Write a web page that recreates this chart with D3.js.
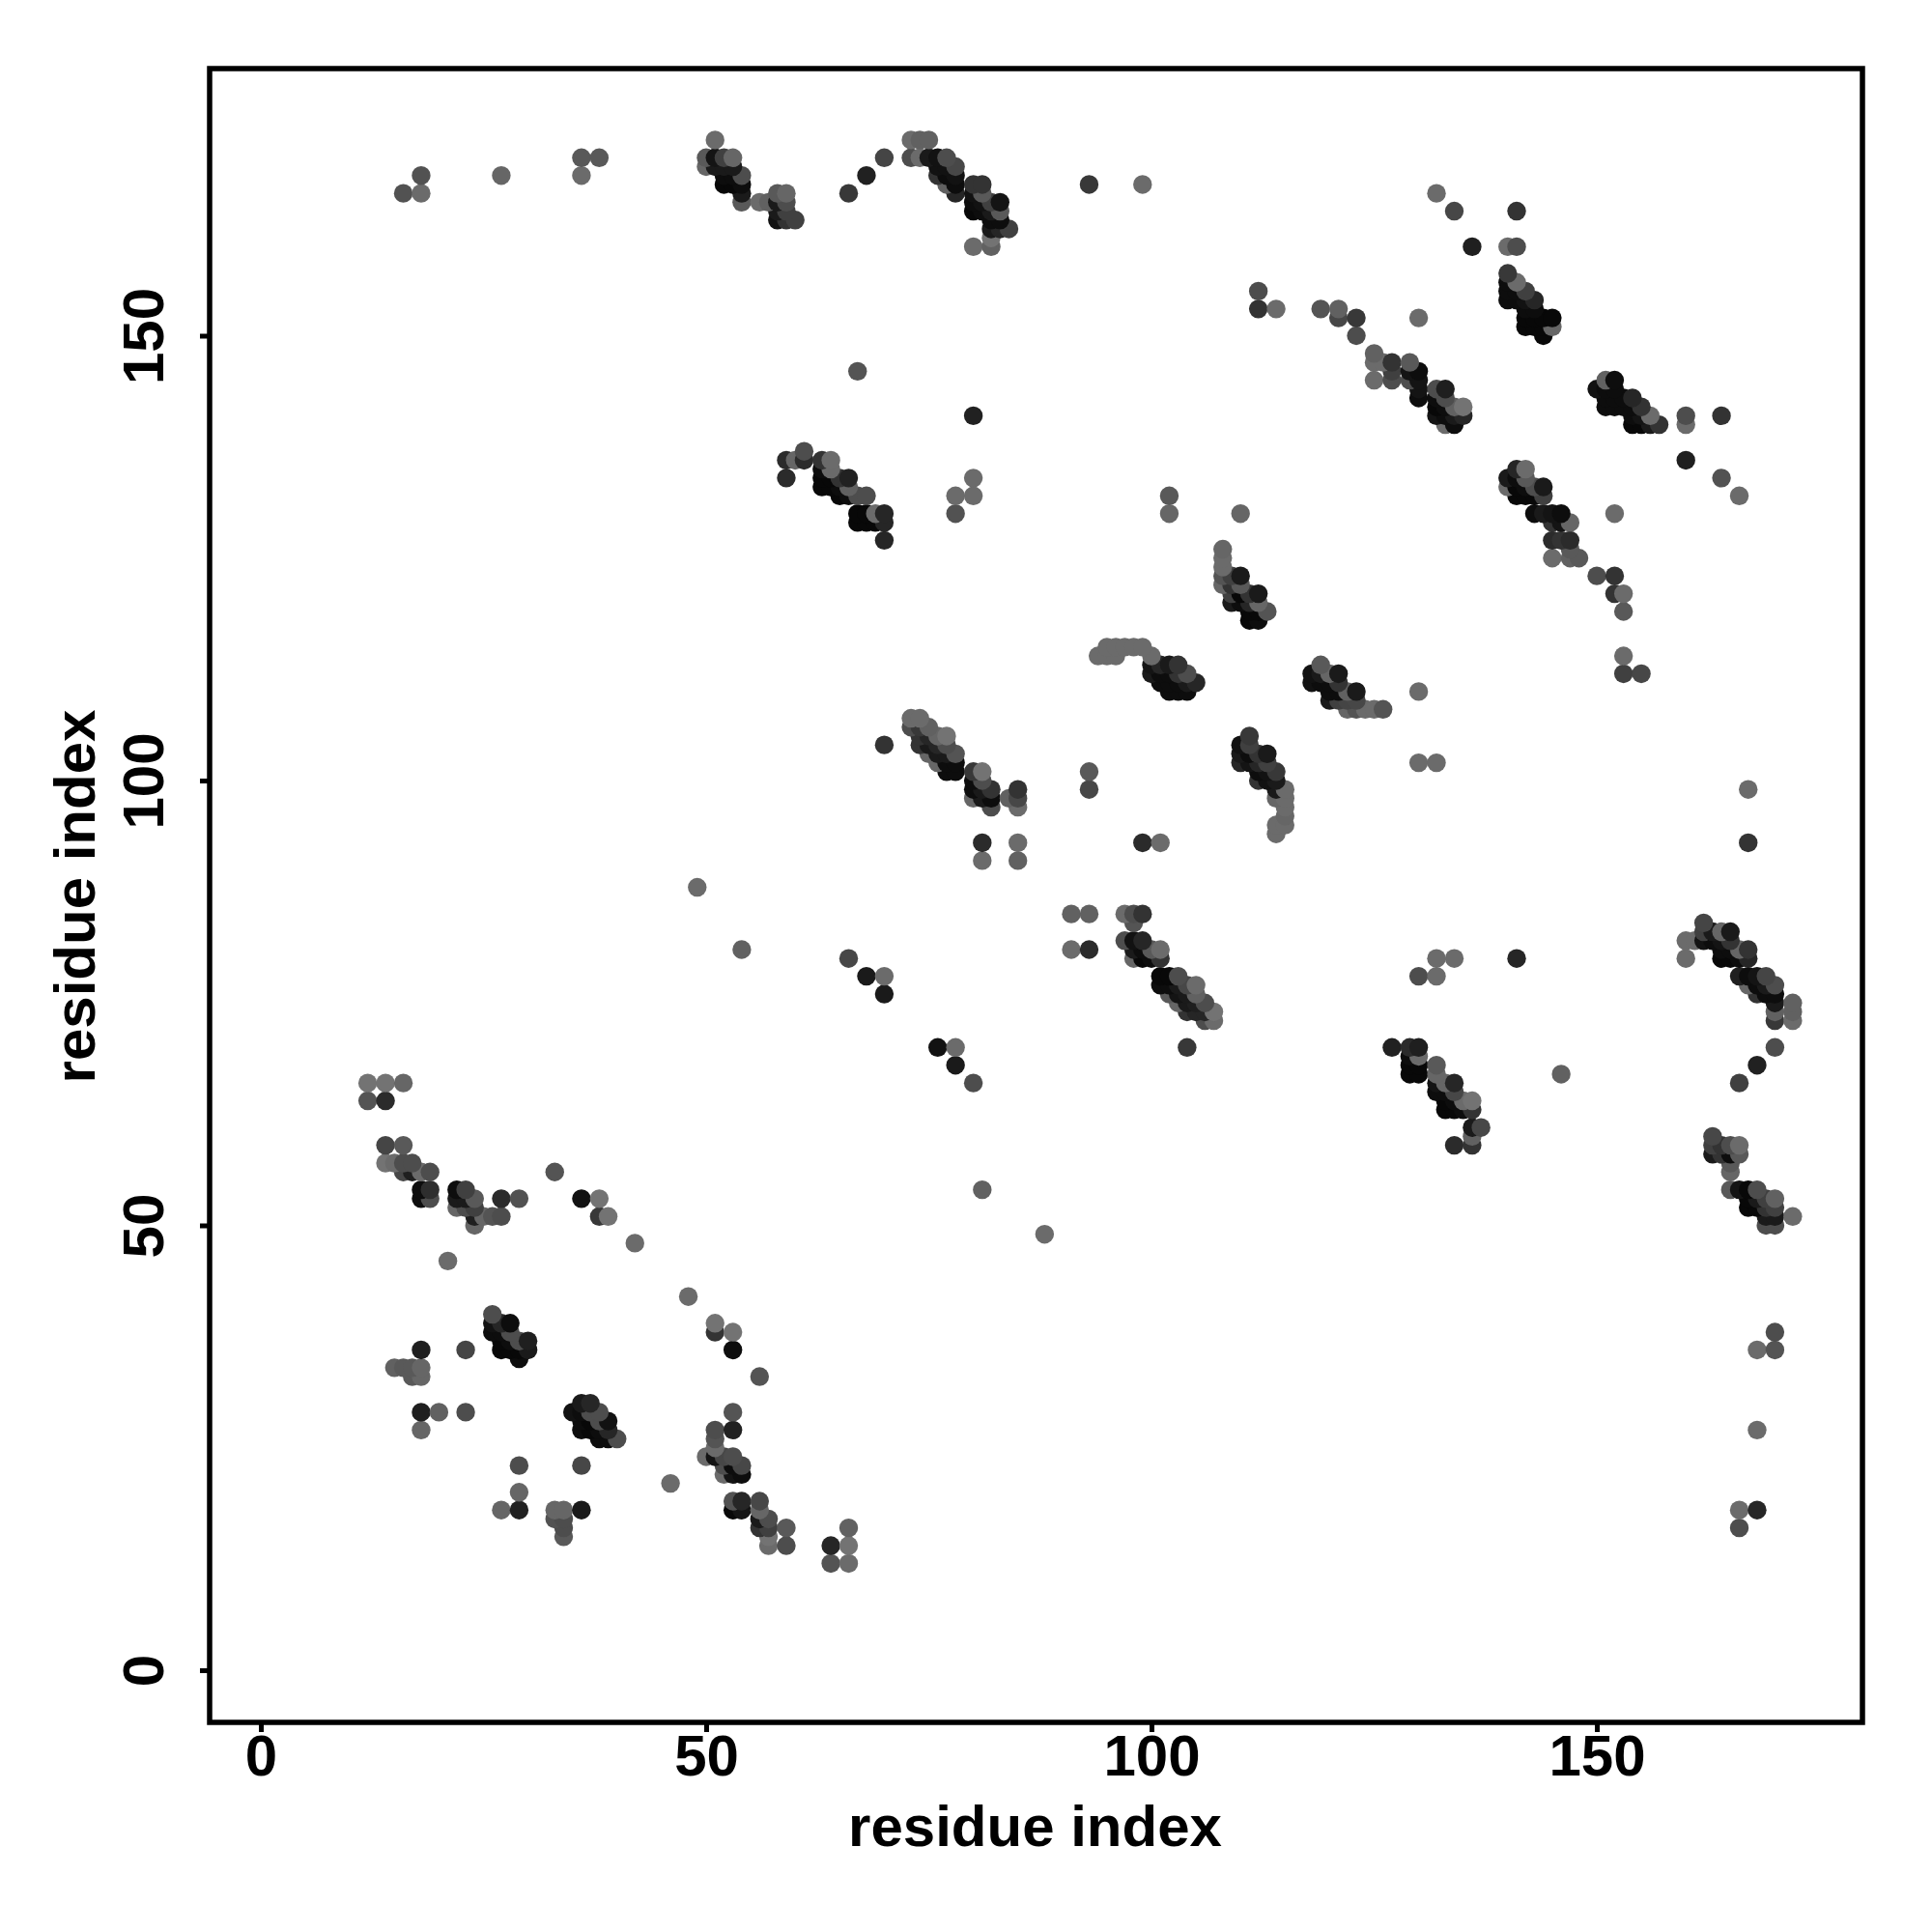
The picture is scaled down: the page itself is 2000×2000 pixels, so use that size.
<!DOCTYPE html>
<html><head><meta charset="utf-8">
<script src="https://cdn.jsdelivr.net/npm/d3@7"></script>
<style>html,body{margin:0;background:#fff}svg{display:block}text{font-family:"Liberation Sans",sans-serif;font-weight:700;fill:#000}</style>
</head><body><svg id="c" width="2000" height="2000"></svg>
<script>
const xTicks=[0,50,100,150], yTicks=[0,50,100,150];
const xTitle="residue index", yTitle="residue index";
// [residue i, residue j, grey level]
const lowerLeft=[[12,66,.45],[14,66,.45],[16,66,.4],[12,64,.33],[14,64,.17],[14,59,.27],[16,59,.35],[14,57,.45],[15,57,.42],[16,57,.3],[17,57,.3],[16,56,.28],[17,56,.12],[18,56,.42],[19,56,.3],[18,54,.05],[19,54,.18],[18,53,.05],[19,53,.3],[22,54,.05],[23,54,.25],[22,53,.1],[23,53,.1],[24,53,.35],[22,52,.4],[23,52,.3],[24,52,.25],[24,51,.12],[25,51,.4],[26,51,.33],[27,51,.3],[24,50,.4],[27,53,.17],[29,53,.32],[33,56,.33],[36,53,.07],[38,53,.45],[38,51,.22],[39,51,.45],[42,48,.42],[21,46,.42],[48,42,.42],[51,39,.45],[51,38,.2]];
const cluster26=[[26,40,.3],[26,39,.07],[27,39,.15],[28,39,.05],[26,38,.05],[27,38,.05],[28,38,.3],[27,37,.03],[28,37,.05],[29,37,.3],[30,37,.12],[27,36,.03],[28,36,.03],[29,36,.03],[30,36,.1],[29,35,.05],[18,36,.12],[23,36,.27],[15,34,.38],[16,34,.35],[17,34,.35],[18,34,.4],[17,33,.35],[18,33,.4],[18,29,.12],[20,29,.38],[23,29,.3],[18,27,.4]];
const cluster35=[[35,29,.07],[36,30,.1],[37,30,.15],[36,29,.05],[37,29,.3],[36,28,.05],[37,28,.03],[38,29,.3],[38,28,.3],[39,28,.07],[36,27,.05],[37,27,.03],[38,27,.05],[39,27,.15],[38,26,.05],[39,26,.05],[40,26,.3],[29,23,.3],[36,23,.28],[29,20,.4],[27,18,.4],[29,18,.13],[33,18,.4],[34,18,.4],[36,18,.1],[33,17,.32],[34,17,.3],[34,16,.3],[34,15,.35]];
const cluster50=[[53,38,.45],[53,36,.05],[56,33,.33],[53,29,.33],[53,27,.13],[51,27,.3],[51,26,.33],[51,25,.42],[50,24,.42],[51,24,.08],[52,24,.28],[53,24,.3],[52,23,.3],[53,23,.05],[54,23,.28],[52,22,.42],[53,22,.08],[54,22,.05],[46,21,.42],[53,19,.32],[54,19,.15],[53,18,.03],[54,18,.08],[56,19,.28],[56,18,.4],[56,17,.1],[57,17,.3],[56,16,.2],[57,16,.25],[57,15,.45],[57,14,.42],[59,16,.35],[59,14,.3],[64,14,.15],[66,16,.38],[66,14,.45],[64,12,.33],[66,12,.42]];
const topLeft=[[16,166,.32],[18,168,.32],[18,166,.42],[27,168,.4],[36,170,.35],[36,168,.42],[38,170,.35],[51,172,.42],[50,170,.35],[51,170,.08],[52,170,.25],[53,170,.4],[50,169,.4],[51,169,.1],[52,169,.1],[53,169,.1],[52,168,.05],[53,168,.05],[54,168,.3],[52,167,.03],[53,167,.03],[54,167,.05],[54,166,.1],[54,165,.35],[56,165,.42],[57,165,.38],[58,166,.35],[59,166,.4],[58,165,.1],[59,165,.3],[58,164,.1],[59,164,.25],[58,163,.07],[59,163,.2],[60,163,.25]];
const topMiddle=[[66,166,.22],[68,168,.13],[70,170,.27],[73,172,.42],[74,172,.38],[75,172,.38],[73,170,.3],[74,170,.42],[75,170,.1],[76,170,.07],[77,170,.3],[76,169,.07],[77,169,.07],[78,169,.28],[76,168,.2],[77,168,.05],[78,168,.07],[77,167,.38],[78,167,.05],[78,166,.15],[80,167,.2],[81,167,.2],[80,166,.07],[81,166,.35],[80,165,.05],[81,165,.07],[82,165,.25],[83,165,.08],[80,164,.03],[81,164,.05],[82,164,.1],[83,164,.35],[82,163,.05],[83,163,.05],[82,162,.1],[83,162,.15],[84,162,.25],[82,161,.45],[80,160,.42],[82,160,.38],[93,167,.22],[99,167,.42],[67,146,.33],[80,141,.13]];
const cluster60=[[59,136,.17],[60,136,.4],[61,137,.3],[61,136,.17],[59,134,.17],[63,136,.2],[64,136,.42],[63,135,.05],[64,135,.42],[63,134,.03],[64,134,.03],[65,134,.2],[66,134,.13],[63,133,.03],[64,133,.03],[65,133,.05],[66,133,.38],[65,132,.03],[66,132,.05],[67,132,.3],[68,132,.3],[67,130,.03],[68,130,.03],[69,130,.42],[70,130,.15],[67,129,.03],[68,129,.03],[69,129,.03],[70,129,.15],[70,127,.15],[80,134,.42],[78,132,.42],[80,132,.42],[78,130,.32]];
const cluster75=[[73,107,.42],[74,107,.42],[73,106,.3],[74,106,.22],[75,106,.38],[74,105,.2],[75,105,.15],[76,105,.4],[77,105,.45],[74,104,.2],[75,104,.1],[76,104,.15],[77,104,.3],[75,103,.4],[76,103,.1],[77,103,.1],[78,103,.33],[76,102,.4],[77,102,.05],[78,102,.05],[77,101,.05],[78,101,.05],[80,101,.22],[81,101,.45],[80,100,.05],[81,100,.3],[80,99,.05],[81,99,.1],[82,99,.2],[80,98,.4],[81,98,.1],[82,98,.05],[82,97,.3],[84,98,.38],[85,99,.2],[85,98,.28],[85,97,.42],[81,93,.17],[81,91,.42],[85,93,.42],[85,91,.38],[70,104,.2]];
const cluster100=[[91,85,.38],[93,85,.38],[91,81,.42],[93,81,.17],[97,85,.42],[98,85,.3],[99,85,.2],[98,84,.33],[97,82,.3],[98,82,.07],[99,82,.15],[98,81,.1],[99,81,.05],[100,81,.35],[101,81,.42],[98,80,.4],[99,80,.03],[100,80,.05],[101,80,.2],[101,78,.03],[102,78,.03],[103,78,.3],[101,77,.05],[102,77,.05],[103,77,.1],[104,77,.28],[105,77,.42],[102,76,.35],[103,76,.08],[104,76,.1],[105,76,.38],[103,75,.4],[104,75,.1],[105,75,.12],[106,75,.3],[104,74,.2],[105,74,.15],[106,74,.15],[107,74,.45],[106,73,.3],[107,73,.42],[104,70,.22],[99,93,.17],[101,93,.42]];
const cluster110=[[108,126,.4],[108,125,.42],[108,124,.42],[108,123,.33],[108,122,.4],[109,123,.25],[110,123,.1],[109,122,.2],[110,122,.35],[109,121,.25],[110,121,.03],[111,121,.2],[112,121,.1],[109,120,.1],[110,120,.05],[111,120,.15],[112,120,.4],[111,119,.03],[112,119,.03],[113,119,.33],[111,118,.03],[112,118,.05],[110,130,.4],[102,132,.35],[102,130,.4]];
const cluster95=[[94,114,.42],[95,114,.42],[96,114,.42],[95,115,.42],[96,115,.42],[97,115,.42],[98,115,.42],[99,115,.42],[100,114,.42],[100,113,.08],[101,113,.15],[102,113,.1],[103,113,.2],[100,112,.1],[101,112,.05],[102,112,.05],[103,112,.2],[104,112,.3],[101,111,.05],[102,111,.05],[103,111,.05],[104,111,.1],[105,111,.15],[102,110,.05],[103,110,.05],[104,110,.05]];
const cluster118=[[119,113,.35],[118,112,.07],[119,112,.1],[120,112,.4],[121,112,.1],[118,111,.07],[119,111,.05],[120,111,.05],[121,111,.2],[120,110,.05],[121,110,.05],[122,110,.38],[123,110,.1],[120,109,.1],[121,109,.25],[122,109,.27],[123,109,.28],[122,108,.4],[123,108,.33],[124,108,.42],[125,108,.42],[126,108,.33],[130,110,.42],[130,102,.42],[132,102,.42]];
const cluster111=[[111,105,.22],[110,104,.07],[111,104,.25],[110,103,.1],[111,103,.05],[112,103,.2],[113,103,.1],[110,102,.15],[111,102,.08],[112,102,.15],[113,102,.25],[112,101,.05],[113,101,.07],[114,101,.22],[112,100,.2],[113,100,.07],[114,100,.1],[114,99,.1],[115,99,.42],[114,98,.4],[115,98,.42],[115,97,.42],[115,96,.4],[114,95,.42],[115,95,.42],[114,94,.42]];
const cluster140=[[136,160,.12],[140,160,.42],[141,160,.3],[140,157,.22],[140,156,.05],[141,156,.42],[140,155,.05],[141,155,.05],[142,155,.25],[140,154,.05],[141,154,.05],[142,154,.07],[143,154,.15],[142,153,.05],[143,153,.05],[142,152,.03],[143,152,.03],[144,152,.03],[145,152,.03],[142,151,.03],[143,151,.03],[144,151,.03],[145,151,.4],[144,150,.03],[130,152,.42],[132,166,.42],[134,164,.28],[141,164,.2]];
const cluster125=[[125,148,.38],[125,147,.42],[125,145,.42],[127,147,.2],[127,146,.25],[127,145,.3],[126,147,.42],[129,147,.35],[129,146,.08],[130,146,.05],[129,145,.3],[130,145,.08],[130,144,.08],[130,143,.05],[132,144,.3],[133,144,.12],[132,143,.05],[133,143,.3],[134,142,.38],[135,142,.45],[132,142,.03],[133,142,.05],[132,141,.08],[133,141,.05],[134,141,.1],[135,141,.15],[133,140,.42],[134,140,.05],[119,153,.33],[121,153,.38],[121,152,.28],[123,152,.22],[123,150,.3],[112,155,.3],[112,153,.2],[114,153,.42]];
const cluster150=[[150,144,.07],[151,145,.38],[152,145,.05],[151,144,.05],[152,144,.05],[151,143,.05],[152,143,.05],[151,142,.05],[152,142,.05],[153,142,.05],[154,143,.15],[153,143,.05],[154,142,.05],[155,142,.2],[154,141,.05],[155,141,.08],[156,141,.42],[154,140,.03],[155,140,.03],[156,140,.1],[157,140,.2],[160,141,.3],[160,140,.42],[160,136,.12],[164,141,.2],[164,134,.32],[166,132,.42]];
const cluster142=[[140,134,.1],[141,135,.15],[142,135,.42],[140,133,.42],[141,134,.05],[142,134,.35],[141,133,.03],[142,133,.05],[143,133,.3],[144,133,.1],[141,132,.03],[142,132,.03],[143,132,.03],[144,132,.25],[143,130,.05],[144,130,.1],[145,130,.08],[146,130,.05],[145,129,.2],[146,129,.08],[147,129,.4],[145,127,.17],[146,127,.2],[147,127,.17],[147,126,.35],[145,125,.42],[147,125,.38],[148,125,.35],[150,123,.3],[152,123,.2],[152,121,.2],[152,130,.42],[153,121,.42],[153,119,.35],[153,114,.42],[153,112,.25],[155,112,.28]];
const scattered=[[93,101,.35],[93,99,.28],[167,99,.42],[167,93,.2],[49,88,.42],[54,81,.38],[66,80,.28],[68,78,.1],[70,78,.42],[70,76,.1],[76,70,.07],[78,70,.42],[78,68,.1],[80,66,.3],[81,54,.38],[88,49,.42],[170,38,.3],[168,36,.42],[170,36,.33],[168,27,.42],[166,18,.42],[168,18,.15],[166,16,.3],[146,67,.38]];
const cluster130=[[132,80,.42],[134,80,.42],[130,78,.3],[132,78,.42],[141,80,.15],[127,70,.13],[129,70,.17],[130,70,.12],[129,69,.05],[130,69,.42],[129,68,.03],[130,68,.03],[129,67,.03],[130,67,.03],[132,68,.35],[132,67,.4],[133,66,.4],[134,66,.15],[132,66,.08],[132,65,.05],[133,65,.05],[134,65,.28],[133,64,.03],[134,64,.05],[135,64,.42],[136,64,.45],[133,63,.03],[134,63,.03],[135,63,.05],[136,63,.2],[136,61,.1],[137,61,.28],[136,60,.38],[134,59,.17],[136,59,.2]];
const cluster162=[[162,84,.27],[160,82,.42],[161,82,.42],[162,83,.25],[162,82,.08],[163,83,.1],[164,83,.4],[165,83,.1],[163,82,.05],[164,82,.08],[165,82,.2],[160,80,.42],[164,81,.05],[165,81,.05],[166,81,.4],[167,81,.2],[164,80,.03],[165,80,.03],[166,80,.05],[167,80,.15],[166,78,.12],[167,78,.05],[168,78,.08],[169,78,.27],[167,77,.4],[168,77,.05],[169,77,.1],[170,77,.3],[168,76,.2],[169,76,.05],[170,76,.05],[170,75,.1],[172,75,.38],[170,74,.38],[172,74,.38],[170,73,.22],[172,73,.42],[170,70,.3],[168,68,.13],[166,66,.25]];
const cluster165=[[163,60,.28],[163,59,.25],[164,59,.2],[165,59,.3],[166,59,.42],[163,58,.1],[164,58,.2],[165,58,.05],[166,58,.35],[165,57,.35],[165,56,.4],[165,54,.35],[166,54,.08],[167,54,.03],[168,54,.3],[167,53,.03],[168,53,.1],[169,53,.25],[170,53,.38],[167,52,.03],[168,52,.03],[169,52,.2],[170,52,.25],[169,51,.1],[170,51,.1],[172,51,.42],[169,50,.3],[170,50,.3]];

const contacts=[lowerLeft,cluster26,cluster35,cluster50,topLeft,topMiddle,cluster60,cluster75,cluster100,cluster110,cluster95,cluster118,cluster111,cluster140,cluster125,cluster150,cluster142,scattered,cluster130,cluster162,cluster165].flat()
  .sort((a,b)=>d3.ascending(a[1],b[1])||d3.ascending(a[0],b[0]));

const box={l:217,r:1928,t:71,b:1783};
const x=d3.scaleLinear().domain([0,150]).range([270,1653]);
const y=d3.scaleLinear().domain([0,150]).range([1729,347.5]);
const svg=d3.select("#c");
const grey=g=>d3.rgb(g*255,g*255,g*255).formatHex();

svg.append("g").selectAll("circle").data(contacts).join("circle")
  .attr("cx",d=>x(d[0])).attr("cy",d=>y(d[1])).attr("r",9.7).attr("fill",d=>grey(d[2]));

svg.append("rect").attr("x",box.l).attr("y",box.t).attr("width",box.r-box.l).attr("height",box.b-box.t)
  .attr("fill","none").attr("stroke","#000").attr("stroke-width",5.5);

const gx=svg.append("g").attr("transform",`translate(0,${box.b})`)
  .call(d3.axisBottom(x).tickValues(xTicks).tickSize(10).tickSizeOuter(0).tickPadding(2));
gx.select(".domain").remove();
gx.selectAll("line").attr("stroke","#000").attr("stroke-width",5);
gx.selectAll("text").attr("font-size",60).attr("font-family","Liberation Sans").attr("font-weight",700);

const gy=svg.append("g").attr("transform",`translate(${box.l},0)`)
  .call(d3.axisLeft(y).tickValues(yTicks).tickSize(10).tickSizeOuter(0));
gy.select(".domain").remove();
gy.selectAll("line").attr("stroke","#000").attr("stroke-width",5);
gy.selectAll("text").attr("x",null).attr("dy",null).attr("text-anchor","middle")
  .attr("transform","translate(-48,0) rotate(-90)").attr("font-size",60).attr("font-family","Liberation Sans").attr("font-weight",700);

svg.append("text").attr("x",(box.l+box.r)/2-1).attr("y",1911).attr("text-anchor","middle").attr("font-size",60).text(xTitle);
svg.append("text").attr("transform",`translate(98,${(box.t+box.b)/2+1}) rotate(-90)`).attr("text-anchor","middle").attr("font-size",60).text(yTitle);
</script></body></html>
